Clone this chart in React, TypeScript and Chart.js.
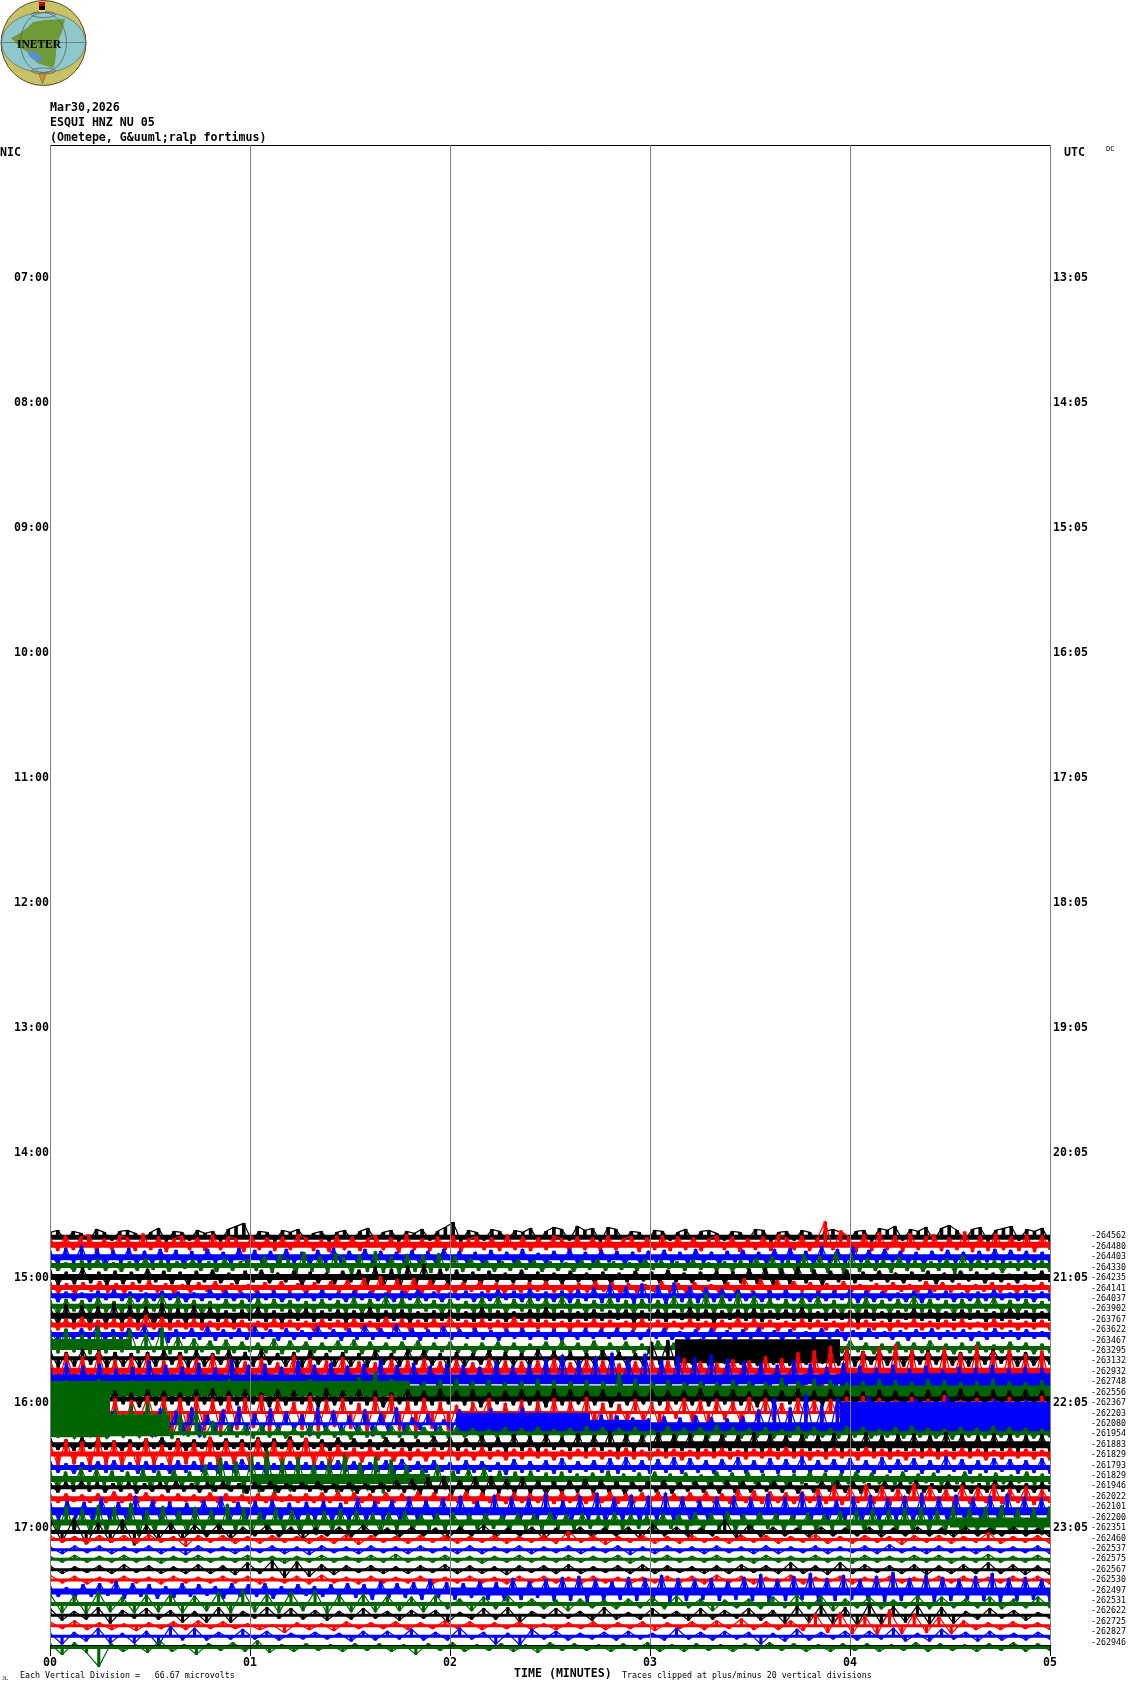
import React, { useEffect, useRef } from "react";
import { Chart, registerables } from "chart.js";

Chart.register(...registerables);

const nicLabels = ["07:00","08:00","09:00","10:00","11:00","12:00","13:00","14:00","15:00","16:00","17:00"];
const utcLabels = ["13:05","14:05","15:05","16:05","17:05","18:05","19:05","20:05","21:05","22:05","23:05"];
const hourMinutes = [420,480,540,600,660,720,780,840,900,960,1020];
const minuteTicks = [0,1,2,3,4,5];
const minorTickMinutes = [0.1667,0.3333,0.5,0.6667,0.8333,1.1667,1.3333,1.5,1.6667,1.8333,2.1667,2.3333,2.5,2.6667,2.8333,3.1667,3.3333,3.5,3.6667,3.8333,4.1667,4.3333,4.5,4.6667,4.8333];
const dcLabels = ["-264562","-264480","-264403","-264330","-264235","-264141","-264037","-263902","-263767","-263622","-263467","-263295","-263132","-262932","-262748","-262556","-262367","-262203","-262080","-261954","-261883","-261829","-261793","-261829","-261946","-262022","-262101","-262200","-262351","-262460","-262537","-262575","-262567","-262530","-262497","-262531","-262622","-262725","-262827","-262946"];
const traceColors = ["#000000","#ff0000","#0000ff","#006400"];
const traceDrift = [-1,2,0,2,1,1,3,3,4,5,6,3,3,1,3,1,4,1,0,1,0,1,-2,-3,-1,-2,-4,-5,-4,-1,-1,0,0,0,-1,-3,-4,-4,-4,-5];
const coreHeights = [5,6,6,5,6,5,5,5,6,5,5,4,4,6,6,6,5,3,3,4,5,5,5,6,4,5,8,6,4,3,3,3,3,3,6,4,3,3,3,3];
// [row, from minute, to minute, centre in divisions, height in divisions]
const saturatedBands = [
  [11,0,0.4,4,10],[12,3.125,3.95,7,24],[14,0,3.95,0,10],[14,3.95,5,-3,18],
  [15,0,1.8,3,15],[15,1.8,5,0,12],[18,2.03,2.7,1,20],[18,2.7,3.0,-3,14],
  [18,3.0,3.95,-5,9],[18,3.95,5,6,32],[19,0,0.3,21,50],[19,0.3,0.6,8,22],
  [20,3.0,5,0,7],[23,1,1.9,0,10],[27,4.5,5,0,10],[34,2,5,0,8],
];

const trace00 = [5,7,-3,6,4,-4,8,5,-3,6,7,4,-3,5,9,-4,6,5,-3,7,4,6,-4,8,11,14,-3,6,5,-4,7,5,8,-3,4,6,-4,5,7,-3,6,9,-3,5,7,-4,6,4,8,-3,6,10,15,-4,7,5,-3,8,6,-3,7,5,9,-4,6,10,8,-3,11,7,9,-4,10,8,-3,6,5,-4,7,6,-3,5,8,-4,6,7,4,-3,6,5,-3,8,7,-4,5,6,-3,7,5,-4,6,8,5,-3,6,7,-4,9,7,11,-3,8,6,10,-4,9,12,7,-3,8,10,-4,7,9,11,-3,8,6,9,-4];
const trace01 = [7,-6,9,-5,8,10,-7,6,-5,9,7,-6,11,-5,8,-7,6,9,-5,7,-6,10,-5,8,6,-7,9,-5,7,-6,8,-5,10,7,-6,5,-7,9,-5,8,-6,6,9,-5,7,-8,10,-5,6,-6,8,-5,9,-7,6,8,-5,7,-6,10,-5,8,-6,7,-5,9,6,-7,8,-5,7,-6,9,-5,6,8,-7,7,-5,9,-6,8,-5,7,-6,6,9,-5,8,-7,6,-5,8,-6,10,7,-5,9,-6,7,23,-5,14,8,-7,10,-6,12,-5,9,-7,11,-5,8,10,-6,7,-5,13,-7,9,-6,11,-5,8,-6,10,-7,9,-5];
const trace02 = [6,-8,9,-6,11,-7,8,-10,7,-6,9,-8,6,-7,8,-6,7,-9,6,-7,8,-6,5,-7,9,-6,7,-8,6,-7,8,-6,5,-8,7,-6,9,-7,6,-5,8,-7,6,-8,5,-6,7,-9,6,-7,8,-5,6,-7,5,-8,7,-6,5,-7,8,-6,4,-7,6,-5,8,-7,5,-6,7,-5,6,-8,5,-7,6,-5,7,-6,5,-7,8,-6,5,-8,6,-5,7,-6,5,-7,8,-6,9,-7,6,-8,11,-6,8,-7,10,-5,7,-6,8,-5,6,-7,5,-8,6,-5,7,-6,5,-7,6,-5,8,-6,7,-5,6,-7,5,-6];
const trace03 = [4,-5,3,-6,5,-4,6,-5,3,-6,4,-5,7,-4,5,-6,4,-3,6,-5,4,-6,7,-5,4,6,-5,9,-7,11,6,-8,13,-6,9,-7,12,8,-9,10,-6,14,-7,9,-8,11,-6,10,-7,12,-5,9,-6,7,-5,5,-6,4,-5,6,-4,5,-6,4,-5,3,-6,5,-4,6,-5,4,-4,3,-5,6,-4,5,-3,4,-5,6,-4,3,-5,4,-6,5,-4,7,-5,9,-7,6,-8,11,-6,9,-7,13,-8,10,-6,7,-5,6,-7,8,-5,5,-6,4,-5,7,-8,10,-5,6,-4,5,-7,4,-5,6,-4,5,-6];
const trace04 = [7,-8,5,-7,9,-6,5,-8,6,-7,5,-6,8,-5,6,-7,5,-8,6,-5,7,-6,4,-7,6,-5,7,-6,4,-5,6,-8,5,-6,4,-7,6,-5,7,-9,10,-11,8,-12,11,-9,13,-10,8,-9,7,-6,5,-7,6,-5,4,-6,7,-5,5,-6,4,-7,6,-5,4,-6,5,-7,4,-5,6,-4,5,-6,7,-5,4,-6,5,-4,6,-7,5,-6,8,-7,9,-10,8,-7,10,-6,7,-8,6,-5,7,-6,5,-4,6,-5,4,-6,5,-4,6,-7,4,-5,6,-4,5,-6,4,-5,3,-6,5,-4,6,-5];
const trace05 = [5,-6,4,-7,5,-4,6,-5,4,-6,5,-4,7,-5,4,-6,3,-5,5,-4,6,-6,4,-5,3,-6,5,-4,6,-5,4,-7,5,-4,6,-5,7,-6,9,-8,11,-7,8,-10,9,-6,7,-5,4,-6,5,-4,6,-5,4,-6,3,-5,5,-4,6,-5,3,-6,4,-5,6,-4,5,-6,4,-5,3,-4,6,-5,4,-6,5,-4,3,-6,5,-7,9,-5,8,-6,7,-5,6,-4,5,-6,4,-5,6,-4,3,-5,4,-6,5,-4,3,-5,6,-4,5,-5,4,-6,3,-4,5,-5,4,-6,3,-4,5,-5];
const trace06 = [5,-6,4,-5,3,-6,5,-4,6,-5,4,-6,3,-5,5,-4,4,-6,3,-5,6,-4,5,-5,3,-6,4,-4,5,-6,3,-5,4,-5,6,-4,3,-6,5,-4,4,-5,3,-6,5,-4,6,-5,4,-6,3,-4,5,-6,4,-5,6,-4,5,-6,7,-5,4,-6,5,-7,6,-5,8,-7,11,-6,9,-8,12,-7,10,-9,13,-6,9,-7,8,-6,7,-5,6,-5,4,-6,5,-4,6,-5,3,-6,4,-5,5,-4,6,-7,5,-6,4,-5,3,-6,5,-7,6,-4,5,-6,3,-5,4,-5,6,-4,3,-5,5,-6,4,-5];
const trace07 = [6,-9,7,-5,6,-8,9,-6,5,-7,10,-6,8,-5,11,-7,9,-6,6,-8,5,-6,7,-5,6,-9,8,-6,7,-5,6,-8,5,-6,7,-5,6,-7,9,-8,7,-6,10,-7,8,-6,9,-5,6,-8,7,-6,5,-7,9,-6,10,-8,7,-5,9,-6,8,-7,10,-6,7,-8,6,-5,9,-7,6,-8,7,-5,6,-7,10,-6,8,-7,12,-9,11,-10,13,-8,10,-6,8,-9,7,-6,9,-7,10,-8,6,-9,8,-10,9,-7,6,-8,7,-5,10,-6,7,-8,6,-9,7,-6,8,-5,9,-7,6,-8,7,-6,5,-8];
const trace08 = [9,-10,11,-8,10,-11,9,-10,12,-9,10,-8,9,-11,12,-8,7,-9,10,-7,8,-6,5,-7,6,-5,8,-6,5,-7,6,-5,7,-6,5,-5,6,-7,5,-6,8,-6,5,-5,6,-7,4,-6,5,-5,6,-5,4,-6,8,-5,5,-6,4,-5,6,-6,8,-5,5,-6,4,-5,6,-5,5,-4,6,-7,5,-5,6,-6,5,-4,8,-5,6,-7,5,-4,6,-5,7,-6,5,-4,6,-5,8,-6,4,-5,6,-4,5,-7,6,-5,4,-6,5,-4,7,-5,6,-6,4,-5,6,-4,5,-6,4,-5,7,-4,5,-6,4,-5];
const trace09 = [5,-5,6,-4,8,-5,5,-4,6,-6,8,-5,10,-4,8,-5,5,-4,6,-5,4,-5,6,-4,5,-6,4,-5,6,-4,5,-5,4,-6,6,-4,5,-5,6,-4,4,-5,8,-5,6,-6,5,-4,6,-5,8,-4,5,-5,6,-4,5,-6,8,-5,6,-4,5,-5,4,-6,5,-4,6,-5,5,-4,4,-5,6,-4,5,-5,4,-4,6,-5,4,-6,5,-4,7,-5,6,-4,5,-6,4,-5,6,-4,5,-5,4,-6,6,-4,5,-5,4,-6,5,-4,6,-5,4,-4,5,-5,6,-4,3,-5,6,-4,5,-5,4,-4,5,-5];
const trace10 = [4,-8,5,-5,6,-4,8,-6,5,-5,6,-4,9,-5,6,-8,5,-4,6,-5,8,-6,5,-4,6,-5,8,-4,5,-6,6,-5,4,-5,8,-4,5,-6,6,-5,9,-5,6,-4,10,-5,6,-6,5,-4,8,-5,5,-4,6,-5,4,-6,5,-4,6,-5,4,-5,5,-6,4,-5,6,-4,5,-4,6,-5,4,-5,5,-4,6,-5,3,-6,5,-4,6,-5,4,-6,5,-4,7,-5,4,-6,5,-4,3,-5,6,-4,5,-6,4,-5,6,-4,3,-5,4,-6,5,-4,6,-5,4,-4,5,-6,3,-5,6,-4,4,-5,5,-4,3,-5];
const trace11 = [15,-5,19,-4,13,-6,21,-5,12,-4,18,-5,14,-4,20,-6,11,-5,9,-4,7,-6,8,-5,6,-4,5,-5,9,-6,7,-4,6,-5,5,-4,7,-5,8,-6,6,-4,5,-5,6,-4,7,-5,5,-4,6,-5,4,-6,5,-4,6,-5,5,-6,4,-4,6,-5,7,-4,5,-6,7,-5,5,-4,6,-5,4,-6,7,-4,5,-5,6,-4,5,-5,4,-6,5,-4,6,-5,7,-4,5,-5,6,-4,4,-6,5,-5,7,-4,5,-6,4,-5,6,-4,5,-5,7,-4,4,-6,5,-5,6,-4,3,-5,6,-4,5,-6,4,-5];
const trace12 = [8,-9,6,-8,9,-6,8,-9,6,-8,5,-9,6,-8,8,-6,6,-9,8,-8,5,-6,8,-9,6,-8,9,-6,5,-8,6,-9,8,-6,5,-8,6,-8,5,-9,8,-6,5,-8,9,-6,8,-7,5,-9,6,-8,5,-6,8,-9,6,-7,5,-8,9,-6,7,-8,6,-9,5,-7,8,-6,6,-8,5,-7,16,-6,18,-7,17,-6,19,-7,16,-5,17,-6,18,-7,17,-6,16,-7,15,-6,18,-5,16,-7,9,-8,7,-6,8,-7,6,-8,7,-6,8,-6,7,-7,6,-8,7,-6,9,-5,7,-8,6,-7,5,-6];
const trace13 = [12,-13,17,-11,14,-16,19,-12,11,-15,13,-10,16,-12,10,-17,15,-11,12,-13,16,-10,11,-12,9,-13,12,-10,8,-11,15,-9,12,-14,10,-8,13,-11,9,-12,8,-10,11,-9,10,-11,12,-8,9,-10,11,-9,8,-10,12,-9,10,-11,9,-8,10,-9,12,-10,8,-9,11,-8,10,-9,7,-10,9,-8,11,-9,10,-8,12,-7,9,-10,8,-9,11,-8,10,-9,14,-8,12,-12,18,-14,20,-15,24,-11,22,-16,19,-13,23,-15,26,-12,21,-14,18,-13,22,-11,17,-12,24,-15,19,-13,21,-12,16,-14,20,-13];
const trace14 = [11,-12,16,-10,13,-14,15,-11,10,-13,12,-15,18,-11,14,-10,12,-13,16,-11,11,-14,19,-12,14,-10,15,-13,12,-11,18,-10,14,-12,16,-11,13,-10,15,-12,19,-11,14,-10,16,-12,13,-11,15,-10,14,-12,12,-11,17,-10,13,-12,15,-11,20,-10,24,-12,18,-11,22,-10,26,-12,20,-11,25,-10,19,-11,23,-12,21,-10,24,-11,20,-12,18,-10,16,-13,14,-12,19,-14,15,-13,12,-14,16,-15,13,-14,11,-16,14,-13,10,-15,13,-14,9,-15,12,-13,11,-16,14,-13,10,-14,12,-15,11,-14];
const trace15 = [10,-10,11,-9,10,-11,12,-10,9,-10,11,-9,10,-11,9,-10,11,-10,10,-9,11,-10,12,-9,10,-11,11,-10,9,-11,10,-9,12,-10,9,-11,10,-9,14,-12,19,-14,12,-11,10,-12,9,-11,11,-10,12,-11,10,-12,11,-10,9,-11,10,-12,12,-10,11,-11,10,-9,11,-12,10,-11,18,-10,12,-11,10,-9,11,-10,9,-12,10,-11,9,-10,11,-9,10,-11,9,-10,13,-11,10,-9,12,-10,11,-12,9,-11,10,-9,12,-10,11,-11,9,-10,12,-9,11,-10,9,-12,10,-11,12,-9,10,-11,9,-10,11,-9];
const trace16 = [8,-6,9,-6,8,-10,9,-6,8,-5,6,-8,9,-6,8,-5,6,-6,9,-5,10,-6,8,-6,9,-5,6,-8,9,-6,8,-5,6,-8,10,-6,8,-5,9,-6,8,-8,6,-5,9,-6,8,-6,10,-5,8,-6,9,-8,6,-5,8,-6,9,-6,8,-8,10,-6,9,-5,8,-6,9,-8,6,-6,8,-5,9,-6,8,-5,8,-6,10,-7,8,-5,9,-6,7,-8,9,-6,8,-5,10,-6,8,-7,9,-5,8,-6,7,-8,9,-5,8,-7,6,-6,9,-5,8,-6,10,-5,7,-6,9,-7,8,-5,9,-6,8,-7];
const trace17 = [12,-9,7,-5,10,-18,9,-16,14,-20,12,-7,16,-10,15,-19,14,-21,15,-18,13,-20,16,-17,14,-15,17,-19,13,-11,10,-17,16,-18,12,-14,14,-16,9,-19,15,-12,17,-18,11,-20,14,-16,10,-18,7,-17,10,-6,14,-20,9,-16,12,-18,11,-15,14,-17,11,-10,15,-13,9,-16,8,-11,13,-10,10,-15,11,-6,14,-9,12,-17,13,-7,11,-12,15,-8,14,-7,9,-10,14,-6,12,-9,13,-5,15,-8,16,-7,14,-10,12,-7,15,-6,13,-9,17,-7,12,-8,14,-6,13,-10,15,-7,12,-6,16,-8];
const trace18 = [9,-9,7,-10,6,-8,5,-9,12,-10,8,-11,10,-13,15,-10,13,-11,16,-13,9,-10,14,-9,17,-11,10,-8,15,-10,12,-7,9,-12,16,-9,13,-11,8,-10,14,-12,11,-9,16,-10,6,-6,10,-8,4,-7,14,-11,9,-10,15,-9,10,-11,16,-10,12,-8,9,-7,8,-11,7,-10,9,-9,8,-9,6,-7,5,-8,7,-9,6,-10,8,-7,6,-9,5,-8,7,-10,14,-7,25,-9,16,-8,29,-11,18,-10,25,-9,20,-8,27,-11,17,-10,22,-9,24,-8,19,-11,26,-9,21,-10,17,-8,24,-9,20,-11,23,-8,18,-10];
const trace19 = [7,-4,34,-5,31,-3,38,-5,23,-4,27,-4,30,-3,25,-5,19,-3,22,-4,12,-3,9,-4,7,-5,8,-4,6,-5,5,-4,7,-5,6,-4,5,-6,7,-4,6,-5,7,-4,8,-5,6,-4,7,-5,6,-4,5,-5,4,-4,6,-5,5,-4,6,-5,4,-4,5,-6,7,-4,6,-5,5,-4,6,-5,4,-4,7,-5,5,-4,6,-5,8,-4,6,-5,5,-4,6,-5,4,-4,7,-5,6,-4,5,-5,7,-4,6,-5,4,-4,6,-5,7,-4,5,-5,4,-6,6,-4,5,-5,7,-4,6,-4,5,-5,4,-4];
const trace20 = [6,-5,5,-6,7,-4,6,-5,4,-6,5,-5,6,-4,7,-5,6,-6,5,-4,7,-5,6,-4,5,-5,7,-6,6,-4,8,-5,6,-4,5,-6,7,-5,6,-4,5,-5,7,-4,6,-6,5,-4,8,-5,7,-6,6,-5,9,-6,7,-7,10,-6,8,-7,10,-5,7,-6,11,-7,9,-6,13,-8,10,-7,9,-6,12,-8,10,-6,11,-8,9,-7,10,-6,9,-7,12,-8,10,-6,9,-7,10,-6,9,-8,11,-7,10,-6,12,-7,9,-8,10,-6,11,-7,9,-8,12,-6,10,-7,9,-8,11,-6,10,-7,9,-6,10,-8];
const trace21 = [11,-12,14,-10,12,-13,17,-11,13,-12,10,-14,15,-11,9,-13,14,-10,11,-12,17,-11,13,-10,11,-12,15,-10,12,-13,14,-11,16,-12,10,-13,9,-8,6,-8,7,-6,5,-7,6,-6,5,-7,6,-5,7,-6,5,-6,7,-5,4,-6,5,-5,6,-4,5,-6,4,-5,5,-4,6,-5,4,-5,6,-5,4,-6,5,-4,5,-6,4,-5,5,-4,6,-5,4,-5,5,-4,6,-5,7,-4,5,-6,4,-5,6,-4,5,-6,7,-4,5,-5,4,-6,5,-4,6,-5,4,-5,6,-4,5,-6,4,-5,6,-4,5,-5,4,-6];
const trace22 = [6,-5,4,-6,5,-4,6,-5,7,-4,5,-6,6,-5,4,-6,7,-5,6,-4,5,-6,6,-5,8,-4,5,-6,4,-5,6,-4,5,-6,6,-5,7,-4,6,-6,5,-4,7,-6,8,-4,6,-5,7,-4,5,-6,7,-5,6,-4,5,-7,8,-5,6,-4,7,-6,9,-5,6,-4,7,-5,9,-6,10,-4,7,-6,8,-5,10,-6,9,-5,7,-6,8,-4,10,-6,7,-5,9,-6,8,-5,11,-6,7,-4,8,-6,9,-5,7,-6,10,-5,8,-4,9,-6,7,-5,11,-4,8,-6,7,-5,9,-4,8,-6,7,-5,9,-6];
const trace23 = [8,-10,7,-8,11,-7,10,-6,8,-10,7,-8,10,-11,8,-7,9,-8,7,-10,14,-12,21,-11,17,-14,23,-13,28,-15,19,-12,21,-10,14,-11,18,-13,24,-12,16,-11,22,-14,19,-10,13,-11,10,-8,13,-10,8,-7,10,-8,11,-7,8,-10,7,-6,8,-7,6,-8,7,-6,5,-7,6,-6,8,-7,5,-6,6,-5,7,-6,5,-7,6,-5,4,-6,7,-5,6,-6,7,-5,5,-6,4,-6,5,-5,7,-4,6,-6,5,-5,7,-4,6,-5,4,-6,7,-5,5,-4,6,-6,4,-5,7,-4,5,-6,6,-5,4,-4,7,-6,5,-5];
const trace24 = [4,-5,5,-4,6,-4,5,-5,4,-4,5,-6,4,-4,5,-5,6,-4,4,-5,5,-4,6,-4,4,-6,5,-4,6,-5,4,-4,5,-4,6,-5,4,-4,5,-6,4,-5,5,-4,7,-5,8,-7,10,-6,11,-8,7,-6,10,-7,11,-6,8,-7,10,-6,7,-8,6,-6,7,-5,8,-6,7,-5,6,-7,5,-4,6,-5,7,-6,5,-4,6,-5,5,-6,7,-5,6,-5,5,-4,6,-5,5,-6,4,-5,6,-4,7,-5,6,-6,4,-5,6,-4,5,-6,7,-5,4,-5,6,-4,5,-6,4,-5,7,-4,6,-5,4,-5,5,-4];
const trace25 = [4,-4,5,-3,4,-4,5,-4,7,-4,5,-4,6,-5,4,-4,5,-3,4,-4,6,-4,5,-4,4,-5,5,-4,6,-3,4,-4,5,-4,6,-4,7,-5,6,-4,5,-5,6,-4,5,-5,7,-4,6,-5,5,-4,7,-5,6,-4,5,-5,6,-4,5,-4,6,-5,7,-4,5,-5,6,-4,7,-5,5,-4,6,-5,7,-4,5,-5,6,-4,7,-4,5,-5,9,-4,8,-5,7,-4,6,-5,7,-4,10,-5,13,-6,11,-4,14,-5,12,-6,10,-4,15,-5,12,-4,9,-6,13,-5,11,-4,14,-5,10,-4,12,-6,9,-4];
const trace26 = [8,-9,10,-7,9,-11,13,-10,9,-11,15,-10,11,-12,9,-10,8,-9,11,-10,14,-11,9,-8,10,-10,11,-9,8,-10,9,-9,10,-11,8,-10,13,-11,10,-9,11,-12,14,-10,11,-9,13,-11,15,-10,10,-11,16,-12,14,-11,13,-10,17,-13,11,-12,15,-10,18,-13,13,-11,16,-12,15,-11,18,-12,14,-14,11,-10,14,-11,15,-10,13,-12,17,-11,14,-10,18,-12,15,-13,11,-10,14,-12,16,-11,13,-10,15,-12,18,-13,14,-11,16,-10,13,-12,15,-11,17,-10,14,-12,13,-11];
const trace27 = [12,-11,16,-10,13,-12,17,-11,15,-10,19,-13,12,-11,16,-10,11,-12,15,-10,12,-11,18,-10,14,-12,10,-11,13,-10,12,-11,9,-12,11,-10,13,-9,12,-10,9,-11,10,-8,11,-9,8,-7,9,-8,10,-7,8,-7,9,-6,7,-8,9,-7,8,-7,10,-6,8,-7,9,-6,7,-8,10,-7,8,-6,7,-7,9,-6,8,-7,10,-8,9,-7,11,-9,8,-7,10,-6,9,-8,7,-7,10,-9,8,-7,11,-8,12,-10,13,-9,12,-10,14,-11,15,-10,12,-12,16,-11,13,-10,15,-12,17,-11,13,-10,14,-12,16];
const trace28 = [13,-10,14,-12,9,-10,12,-13,7,-8,9,-8,7,-5,8,-7,5,-4,7,-5,5,-7,4,-4,5,-5,7,-4,4,-5,5,-4,4,-7,5,-4,7,-5,4,-4,5,-7,4,-4,5,-5,4,-4,5,-7,8,-4,5,-5,4,-4,12,-7,7,-5,5,-4,4,-5,5,-4,4,-4,5,-5,4,-4,5,-4,4,-5,5,-4,4,-4,5,-4,4,-5];
const trace29 = [4,-3,3,-4,4,-3,4,-4,5,-3,3,-7,4,-3,4,-4,3,-4,4,-3,3,-4,4,-4,5,-5,4,-3,3,-4,4,-3,4,-4,3,-3,4,-4,3,-3,4,-4,8,-3,4,-5,3,-3,4,-4,3,-4,4,-3,3,-4,4,-3,4,-4,3,-3,5,-4,3,-4,4,-3,3,-5,4,-3,4,-4,3,-3,7,-4,3,-3,4,-4];
const trace30 = [3,-4,4,-3,4,-4,3,-3,4,-4,3,-5,4,-3,3,-4,4,-3,4,-4,3,-5,4,-3,3,-4,4,-3,3,-4,4,-3,3,-4,4,-4,3,-3,4,-4,3,-3,4,-4,3,-3,4,-5,3,-4,4,-3,3,-4,4,-3,3,-4,4,-4,3,-3,4,-4,3,-3,4,-4,5,-3,3,-4,4,-3,3,-4,4,-3,3,-3,4,-4];
const trace31 = [3,-3,4,-3,3,-3,4,-3,3,-4,3,-3,4,-3,3,-3,4,-3,3,-4,3,-3,4,-3,3,-3,4,-3,5,-3,3,-3,4,-3,3,-4,3,-3,4,-3,3,-3,4,-3,3,-3,4,-4,3,-3,4,-3,3,-3,4,-3,3,-4,4,-3,3,-3,4,-3,3,-4,4,-3,3,-3,4,-3,4,-4,3,-3,5,-3,3,-3,4,-3];
const trace32 = [4,-4,3,-3,4,-4,5,-3,4,-4,3,-4,5,-4,4,-5,7,-4,9,-8,8,-7,5,-5,4,-3,4,-4,3,-4,4,-3,5,-4,4,-4,3,-5,4,-3,4,-4,5,-4,3,-3,4,-4,5,-4,4,-3,3,-4,4,-4,5,-3,4,-4,7,-4,4,-5,7,-4,5,-3,4,-4,5,-5,4,-4,5,-4,7,-4,5,-5,4,-5];
const trace33 = [5,-3,4,-4,3,-3,4,-3,3,-4,4,-3,3,-3,4,-3,4,-4,3,-3,4,-4,5,-3,3,-4,4,-3,3,-3,4,-4,3,-3,4,-3,3,-4,4,-3,4,-3,3,-4,4,-3,3,-4,3,-3,4,-3,4,-4,5,-3,4,-4,3,-3,5,-4,3,-3,4,-4,3,-4,4,-3,3,-3,4,-3,4,-4,3,-3,4,-3,4,-4];
const trace34 = [5,-5,4,-7,7,-5,8,-4,10,-7,8,-5,7,-7,5,-6,8,-5,7,-4,5,-7,8,-5,7,-5,8,-7,5,-5,7,-4,5,-5,7,-6,8,-6,7,-8,10,-6,8,-6,9,-8,12,-6,9,-8,8,-6,10,-8,9,-9,13,-8,10,-6,12,-9,14,-9,15,-10,12,-9,10,-8,14,-9,13,-9,16,-10,13,-9,12,-8,13,-9,10,-8,14,-9,17,-10,12,-9,15,-8,18,-10,13,-9,16,-8,12,-9,15,-10,19,-9,13,-8,16,-10,14,-9,12,-8,15,-9,18,-10,13,-9,14,-8,12,-10];
const trace35 = [10,-9,8,-10,12,-8,7,-9,9,-8,10,-9,8,-7,12,-9,14,-8,10,-9,12,-7,13,-10,9,-8,10,-8,8,-7,7,-8,9,-5,5,-7,7,-5,8,-4,5,-5,4,-7,5,-4,4,-5,5,-4,7,-5,8,-4,5,-7,4,-4,5,-5,7,-4,9,-5,8,-7,5,-4,7,-5,4,-4,8,-5,7,-4,5,-4,7,-5,5,-4,7,-4];
const trace36 = [7,-5,4,-4,8,-8,5,-3,7,-4,5,-7,4,-7,8,-7,4,-3,8,-3,7,-4,5,-5,4,-4,7,-3,4,-5,5,-3,5,-7,3,-4,7,-4,8,-7,4,-3,7,-3,4,-5,8,-4,3,-4,7,-3,4,-5,7,-4,5,-3,7,-5,5,-8,9,-7,10,-9,8,-10,12,-9,9,-7,10,-9,8,-8,4,-4,7,-3,5,-5,3,-3];
const trace37 = [4,-3,5,-4,3,-4,2,-5,3,-3,4,-4,5,-3,4,-3,2,-4,1,-7,3,-4,2,-5,4,-3,3,-3,4,-4,3,-3,5,-3,4,-4,3,-3,4,-4,2,-4,3,-3,4,-4,3,-3,4,-5,3,-3,4,-4,5,-3,7,-4,4,-4,5,-5,12,-7,13,-8,10,-9,16,-8,12,-7,9,-8,5,-4,3,-4,4,-3,3,-4];
const trace38 = [3,-8,4,-5,8,-7,3,-7,5,-9,10,-4,8,-4,4,-3,7,-3,5,-4,3,-3,4,-3,3,-5,5,-4,5,-3,7,-4,4,-4,8,-3,4,-8,3,-9,7,-3,5,-4,3,-3,4,-4,5,-3,3,-4,8,-3,4,-4,5,-3,4,-8,3,-5,7,-4,4,-3,5,-4,5,-3,8,-5,3,-5,7,-3,4,-5,5,-4,3,-4,4,-3];
const trace39 = [4,-7,5,-5,-19,4,-4,3,-5,7,-4,3,-7,4,-3,5,-4,7,-5,3,-4,4,-3,3,-4,4,-3,4,-4,3,-7,4,-3,5,-4,3,-3,4,-4,3,-5,5,-3,4,-3,3,-4,4,-3,5,-4,3,-4,4,-3,3,-4,4,-3,5,-3,4,-4,3,-4,4,-3,4,-4,3,-3,5,-4,4,-3,3,-4,4,-3,5,-4,4,-3];

const traces = [trace00,trace01,trace02,trace03,trace04,trace05,trace06,trace07,trace08,trace09,trace10,trace11,trace12,trace13,trace14,trace15,trace16,trace17,trace18,trace19,trace20,trace21,trace22,trace23,trace24,trace25,trace26,trace27,trace28,trace29,trace30,trace31,trace32,trace33,trace34,trace35,trace36,trace37,trace38,trace39];

const FIRST_ROW_MIN = 880;
const ROW_STEP_MIN = 5;
const MIN_PER_DIV = 0.48;
const rowMinute = (i: number) => FIRST_ROW_MIN + ROW_STEP_MIN * i;
const rowMinutes = traces.map((_, i) => rowMinute(i));
const toY = (row: number, v: number) => rowMinute(row) - (traceDrift[row] + v) * MIN_PER_DIV;

const MONO = '"DejaVu Sans Mono", monospace';
const boldFont = { family: MONO, size: 11.6, weight: "bold" as const };
const smallFont = { family: MONO, size: 8.3 };
const sideClip = { left: 0, right: 0, top: false, bottom: false };

function buildDatasets() {
  const sets: any[] = [];
  traces.forEach((vals, row) => {
    const color = traceColors[row % 4];
    const line = { type: "line", borderColor: color, pointRadius: 0, tension: 0, clip: sideClip, borderCapStyle: "butt", xAxisID: "x", yAxisID: "y" };
    saturatedBands.filter((b) => b[0] === row).forEach((b, k) => {
      sets.push({ ...line, label: `band ${row}.${k}`, borderWidth: b[4], data: [{ x: b[1], y: toY(row, b[3]) }, { x: b[2], y: toY(row, b[3]) }] });
    });
    sets.push({ ...line, label: `core ${row}`, borderWidth: coreHeights[row], data: [{ x: 0, y: toY(row, 0) }, { x: 5, y: toY(row, 0) }] });
    const points = vals.map((v, i) => ({ x: (5 * i) / (vals.length - 1), v }));
    sets.push({ ...line, label: `wiggle ${row}`, borderWidth: 1.2, borderJoinStyle: "miter", data: points.map((p) => ({ x: p.x, y: toY(row, p.v) })) });
    sets.push({
      type: "bar", label: `trace ${row}`, backgroundColor: color, borderWidth: 0, barThickness: vals.length > 100 ? 3 : 2.5, grouped: false, clip: sideClip, xAxisID: "x", yAxisID: "y",
      data: points.map((p) => ({ x: p.x, y: [toY(row, 0), toY(row, p.v)] })),
    });
  });
  const n = sets.length;
  sets.forEach((s, i) => { s.order = n - i; });
  return sets;
}

const textStyle = (left: number, cy: number, size: number, bold: boolean): React.CSSProperties => ({
  position: "absolute", left, top: cy - 8, height: 16, lineHeight: "16px", fontFamily: MONO, fontSize: size, fontWeight: bold ? 700 : 400, whiteSpace: "pre", color: "#000",
});

function Logo() {
  return (
    <svg width={90} height={88} style={{ position: "absolute", left: 0, top: 0 }} viewBox="0 0 90 88">
      <circle cx={43.5} cy={43} r={42.5} fill="#c9c265" stroke="#4a4a30" strokeWidth={1} />
      <ellipse cx={43.5} cy={42.5} rx={42} ry={30} fill="#8fc8cc" stroke="#555" strokeWidth={0.6} />
      <polygon points="11,38 20,33 28,27 33,22 45,20 65,19 62,32 57,43 55,63 53,68 37,63 27,52 20,47" fill="#6f9a36" />
      <ellipse cx={35} cy={56} rx={8} ry={4} transform="rotate(35 35 56)" fill="#5b8fc9" />
      <ellipse cx={43.5} cy={42.5} rx={23} ry={30} fill="none" stroke="#555" strokeWidth={0.7} />
      <ellipse cx={43.5} cy={14.5} rx={12} ry={3} fill="none" stroke="#555" strokeWidth={0.7} />
      <ellipse cx={43.5} cy={71} rx={12} ry={3} fill="none" stroke="#555" strokeWidth={0.7} />
      <line x1={1} y1={42.5} x2={86} y2={42.5} stroke="#555" strokeWidth={0.6} />
      <rect x={39} y={2} width={6} height={4} fill="#c00000" />
      <rect x={39} y={6} width={6} height={4} fill="#000" />
      <rect x={39} y={10} width={6} height={2} fill="#e8d840" />
      <polygon points="39,74 46,74 42.5,84" fill="#d8902a" stroke="#555" strokeWidth={0.5} />
      <text x={39} y={48} textAnchor="middle" fontFamily='"Liberation Serif", serif' fontWeight={700} fontSize={11.5} fill="#000">INETER</text>
    </svg>
  );
}

export default function App() {
  const ref = useRef<HTMLCanvasElement>(null);
  useEffect(() => {
    const fixedWidth = (w: number) => (s: any) => { s.width = w; };
    const fixedHeight = (h: number) => (s: any) => { s.height = h; };
    const yRange = { min: 356.16, max: 1076.16, reverse: true };
    const chart = new Chart(ref.current as HTMLCanvasElement, {
      type: "bar",
      data: { datasets: buildDatasets() },
      options: {
        animation: false,
        responsive: false,
        maintainAspectRatio: false,
        events: [],
        layout: { padding: { top: 145, left: 0, right: 0, bottom: 0 } },
        plugins: { legend: { display: false }, tooltip: { enabled: false }, title: { display: false } },
        scales: {
          x: {
            type: "linear", position: "bottom", min: 0, max: 5, offset: false,
            afterFit: fixedHeight(44),
            afterBuildTicks: (s: any) => { s.ticks = minuteTicks.map((value) => ({ value })); },
            ticks: { autoSkip: false, maxRotation: 0, color: "#000", font: boldFont, padding: 0, callback: (v: any) => `0${v}` },
            grid: { offset: false, color: "#808080", tickColor: "#000", tickLength: 11, lineWidth: 1, z: 1 },
            border: { display: true, color: "#000", width: 1, z: 2 },
          },
          xMinor: {
            type: "linear", position: "bottom", min: 0, max: 5, weight: 1, offset: false,
            afterFit: fixedHeight(0),
            afterBuildTicks: (s: any) => { s.ticks = minorTickMinutes.map((value) => ({ value })); },
            ticks: { display: false },
            grid: { offset: false, drawOnChartArea: false, tickColor: "#000", tickLength: 7 },
            border: { display: false },
          },
          xTop: {
            type: "linear", position: "top", min: 0, max: 5, offset: false,
            afterFit: fixedHeight(0),
            ticks: { display: false },
            grid: { offset: false, drawOnChartArea: false, drawTicks: false },
            border: { display: true, color: "#000", width: 1 },
          },
          y: {
            type: "linear", position: "left", ...yRange,
            afterFit: fixedWidth(50),
            afterBuildTicks: (s: any) => { s.ticks = hourMinutes.map((value) => ({ value })); },
            ticks: { autoSkip: false, color: "#000", font: boldFont, padding: 1, callback: (_: any, i: number) => nicLabels[i] },
            grid: { display: false, drawTicks: false },
            border: { display: false },
          },
          yUtc: {
            type: "linear", position: "right", weight: 1, ...yRange,
            afterFit: fixedWidth(40),
            afterBuildTicks: (s: any) => { s.ticks = hourMinutes.map((value) => ({ value })); },
            ticks: { autoSkip: false, color: "#000", font: boldFont, padding: 3, callback: (_: any, i: number) => utcLabels[i] },
            grid: { display: false, drawTicks: false },
            border: { display: false },
          },
          yDc: {
            type: "linear", position: "right", weight: 2, ...yRange,
            afterFit: fixedWidth(40),
            afterBuildTicks: (s: any) => { s.ticks = rowMinutes.map((value) => ({ value })); },
            ticks: { autoSkip: false, color: "#000", font: smallFont, padding: 1, callback: (_: any, i: number) => dcLabels[i] },
            grid: { display: false, drawTicks: false },
            border: { display: false },
          },
        } as any,
      } as any,
    });
    return () => chart.destroy();
  }, []);
  return (
    <div style={{ position: "absolute", left: 0, top: 0, width: 1130, height: 1689, overflow: "hidden", background: "#fff" }}>
      <canvas ref={ref} width={1130} height={1689} style={{ display: "block", width: 1130, height: 1689 }} />
      <Logo />
      <div style={textStyle(50, 107, 11.6, true)}>Mar30,2026</div>
      <div style={textStyle(50, 122, 11.6, true)}>ESQUI HNZ NU 05</div>
      <div style={textStyle(50, 137, 11.6, true)}>(Ometepe, G&amp;uuml;ralp fortimus)</div>
      <div style={textStyle(0, 152, 11.6, true)}>NIC</div>
      <div style={textStyle(1064, 152, 11.6, true)}>UTC</div>
      <div style={textStyle(1106, 149, 7, false)}>DC</div>
      <div style={textStyle(514, 1673, 11.6, true)}>TIME (MINUTES)</div>
      <div style={textStyle(20, 1675, 8.3, false)}>Each Vertical Division =   66.67 microvolts</div>
      <div style={textStyle(622, 1675, 8.3, false)}>Traces clipped at plus/minus 20 vertical divisions</div>
      <div style={textStyle(2, 1678, 5, false)}>JL</div>
    </div>
  );
}
